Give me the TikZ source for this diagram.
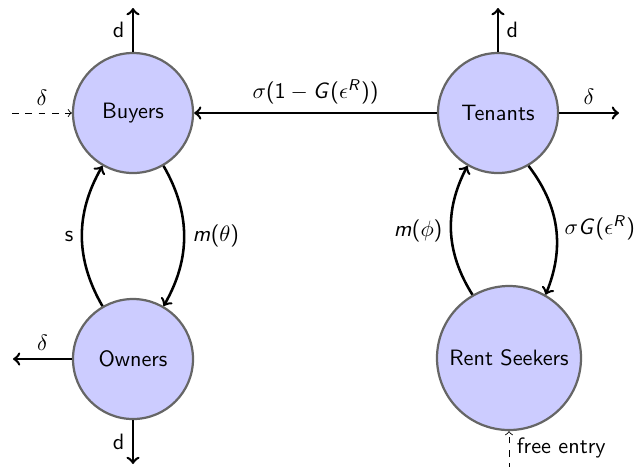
\documentclass[tikz,border=0pt]{standalone}
\usepackage{amsmath}
% sans-serif Latin letters, digits and parentheses in math, Greek stays italic
\DeclareSymbolFont{sfoperators}{OT1}{cmss}{m}{n}
\DeclareSymbolFont{sfletters}{OT1}{cmss}{m}{sl}
\DeclareMathSymbol{G}{\mathalpha}{sfletters}{`G}
\DeclareMathSymbol{R}{\mathalpha}{sfletters}{`R}
\DeclareMathSymbol{m}{\mathalpha}{sfletters}{`m}
\DeclareMathSymbol{1}{\mathalpha}{sfoperators}{`1}
\DeclareMathDelimiter{(}{\mathopen}{sfoperators}{"28}{largesymbols}{"00}
\DeclareMathDelimiter{)}{\mathclose}{sfoperators}{"29}{largesymbols}{"01}
\begin{document}
\begin{tikzpicture}[x=0.45pt,y=-0.45pt, font=\sffamily,
  state/.style={circle, draw=black!60, line width=1pt, fill=blue!20,
                minimum size=54pt, inner sep=0pt},
  flow/.style={->, line width=1.15pt},
  inflow/.style={->, dashed, line width=0.4pt}]
\useasboundingbox (0,0) rectangle (639,466);

% population states
\node[state] (B) at (133,113) {Buyers};
\node[state] (T) at (498,113) {Tenants};
\node[state] (O) at (133,359) {Owners};
\node[state, minimum size=64.8pt] (R) at (509,358) {Rent Seekers};

% free ends of the exit and entry flows
\coordinate (Bup)    at (133,8);
\coordinate (Tup)    at (498,8);
\coordinate (Tright) at (619,113);
\coordinate (Bleft)  at (12,113);
\coordinate (Oleft)  at (13,359);
\coordinate (Odown)  at (133,464);
\coordinate (Rin)    at (509,470);

% exits
\draw[flow] (B) -- node[left]{d} (Bup);
\draw[flow] (T) -- node[right]{d} (Tup);
\draw[flow] (T) -- node[above]{$\delta$} (Tright);
\draw[flow] (O) -- node[above]{$\delta$} (Oleft);
\draw[flow] (O) -- node[left]{d} (Odown);

% entries
\draw[inflow] (Bleft) -- node[above]{$\delta$} (B);
\draw[inflow] (Rin) -- node[right, pos=0.58]{free entry} (R);

% transitions between states
\draw[flow] (T) -- node[above]{$\sigma(1-G(\epsilon^R))$} (B);
\draw[flow] (O.120) to[bend left=30] node[left]{s} (B.240);
\draw[flow] (B.300) to[bend left=30] node[right]{$m(\theta)$} (O.60);
\draw[flow] (R.120) to[bend left=30] node[left]{$m(\phi)$} (T.240);
\draw[flow] (T.300) to[bend left=30] node[right]{$\sigma G(\epsilon^R)$} (R.60);
\end{tikzpicture}
\end{document}
